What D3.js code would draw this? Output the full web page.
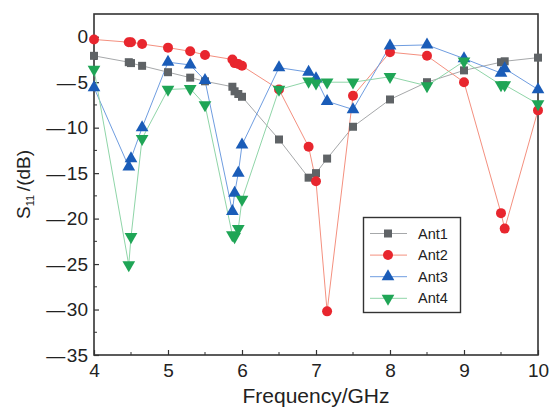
<!DOCTYPE html>
<html><head><meta charset="utf-8">
<script src="https://cdn.jsdelivr.net/npm/d3@7"></script>
<style>
body{margin:0;background:#fff;}
svg text{font-family:"Liberation Sans",Arial,sans-serif;fill:#222;}
</style></head>
<body><svg id="c" width="550" height="411"></svg>
<script>
const freq = [4,4.47,4.5,4.65,5,5.3,5.5,5.87,5.9,5.95,6,6.5,6.9,7,7.15,7.5,8,8.5,9,9.5,9.55,10];
const ant1 = [-2.1,-2.8,-2.9,-3.2,-3.9,-4.5,-4.9,-5.5,-6.0,-6.3,-6.6,-11.3,-15.5,-15.0,-13.4,-9.9,-6.9,-5.0,-3.7,-2.8,-2.7,-2.3];
const ant2 = [-0.3,-0.6,-0.6,-0.8,-1.2,-1.6,-2.0,-2.5,-2.9,-3.0,-3.2,-5.8,-12.1,-15.9,-30.2,-6.5,-1.7,-2.1,-5.0,-19.4,-21.1,-8.1];
const ant3 = [-5.6,-14.3,-13.4,-10.0,-2.8,-3.1,-4.8,-19.2,-17.2,-15.0,-11.9,-3.4,-3.9,-4.6,-7.1,-8.0,-1.0,-0.9,-2.4,-4.0,-3.5,-5.8];
const ant4 = [-3.6,-25.1,-22.0,-11.2,-5.8,-5.7,-7.5,-21.8,-22.0,-21.1,-17.9,-5.8,-4.9,-5.1,-5.0,-5.0,-4.4,-5.4,-2.7,-5.3,-5.3,-7.4];
const seriesNames = ["Ant1","Ant2","Ant3","Ant4"];
const xTicks = [4,5,6,7,8,9,10];
const yTicks = [0,-5,-10,-15,-20,-25,-30,-35];

const series = [
  {name:seriesNames[0], vals:ant1, mk:"#5f6366", ln:"#a6a8aa", sym:d3.symbolSquare, size:64, rot:0},
  {name:seriesNames[1], vals:ant2, mk:"#e8262e", ln:"#f4907f", sym:d3.symbolCircle, size:78, rot:0},
  {name:seriesNames[2], vals:ant3, mk:"#1a5cb8", ln:"#6f9de0", sym:d3.symbolTriangle, size:70, rot:0},
  {name:seriesNames[3], vals:ant4, mk:"#1fa556", ln:"#8fd5a8", sym:d3.symbolTriangle, size:70, rot:180}
];

const svg = d3.select("#c");
const L=94, R=538, T=14, B=355;
const x = d3.scaleLinear().domain([4,10]).range([L,R]);
const y = d3.scaleLinear().domain([-35,2.5]).range([B,T]);
const axisCol="#333";
const FF="Liberation Sans, Arial, sans-serif";

// minor ticks
const g = svg.append("g");
d3.range(4.5,10,1).forEach(v=>{
  g.append("line").attr("x1",x(v)).attr("x2",x(v)).attr("y1",B).attr("y2",B-3).attr("stroke",axisCol).attr("stroke-width",1);
});
d3.range(-32.5,1,5).forEach(v=>{
  g.append("line").attr("x1",L).attr("x2",L+3).attr("y1",y(v)).attr("y2",y(v)).attr("stroke",axisCol).attr("stroke-width",1);
});
// major ticks
const xa = d3.axisBottom(x).tickValues(xTicks).tickSize(-5).tickPadding(9).tickFormat(d3.format("d"));
const xg = svg.append("g").attr("transform",`translate(0,${B})`).call(xa);
xg.select(".domain").remove();
xg.selectAll("line").attr("stroke",axisCol).attr("stroke-width",1.2);
xg.selectAll("text").attr("font-size",19).style("font-family",FF).attr("fill","#222");

const ya = d3.axisLeft(y).tickValues(yTicks).tickSize(-5).tickPadding(6).tickFormat(d=> d===0 ? "0" : "\u2014\u200A" + Math.abs(d));
const yg = svg.append("g").attr("transform",`translate(${L},0)`).call(ya);
yg.select(".domain").remove();
yg.selectAll("line").attr("stroke",axisCol).attr("stroke-width",1.2);
yg.selectAll("text").attr("font-size",19).style("font-family",FF).attr("fill","#222");

// frame
svg.append("rect").attr("x",L).attr("y",T).attr("width",R-L).attr("height",B-T)
  .attr("fill","none").attr("stroke",axisCol).attr("stroke-width",1.6);

// lines + markers
const line = d3.line().x(d=>x(d[0])).y(d=>y(d[1]));
series.forEach(s=>{
  const pts = freq.map((f,i)=>[f,s.vals[i]]);
  svg.append("path").attr("d",line(pts)).attr("fill","none").attr("stroke",s.ln).attr("stroke-width",1);
});
series.forEach(s=>{
  const pts = freq.map((f,i)=>[f,s.vals[i]]);
  svg.append("g").selectAll("path").data(pts).join("path")
    .attr("d",d3.symbol().type(s.sym).size(s.size))
    .attr("transform",d=>`translate(${x(d[0])},${y(d[1])}) rotate(${s.rot})`)
    .attr("fill",s.mk);
});

// legend
const lg = svg.append("g");
lg.append("rect").attr("x",363.5).attr("y",217.5).attr("width",97).attr("height",95)
  .attr("fill","#fff").attr("stroke",axisCol).attr("stroke-width",1.4);
series.forEach((s,i)=>{
  const yy = 233.5 + i*21.6;
  lg.append("line").attr("x1",370).attr("x2",407).attr("y1",yy).attr("y2",yy).attr("stroke",s.ln).attr("stroke-width",1);
  lg.append("path").attr("d",d3.symbol().type(s.sym).size(s.size))
    .attr("transform",`translate(388,${yy}) rotate(${s.rot})`).attr("fill",s.mk);
  lg.append("text").attr("x",418).attr("y",yy+5).attr("font-size",14.5).text(s.name);
});

// axis titles
svg.append("text").attr("x",(L+R)/2).attr("y",403).attr("text-anchor","middle").attr("font-size",21).text("Frequency/GHz");
const yt = svg.append("text").attr("transform",`translate(30,${(T+B)/2}) rotate(-90)`).attr("text-anchor","middle").attr("font-size",19);
yt.append("tspan").text("S");
yt.append("tspan").attr("font-size",11).attr("dy",4).text("11");
yt.append("tspan").attr("dy",-4).text("\u2009/(dB)");
</script></body></html>
